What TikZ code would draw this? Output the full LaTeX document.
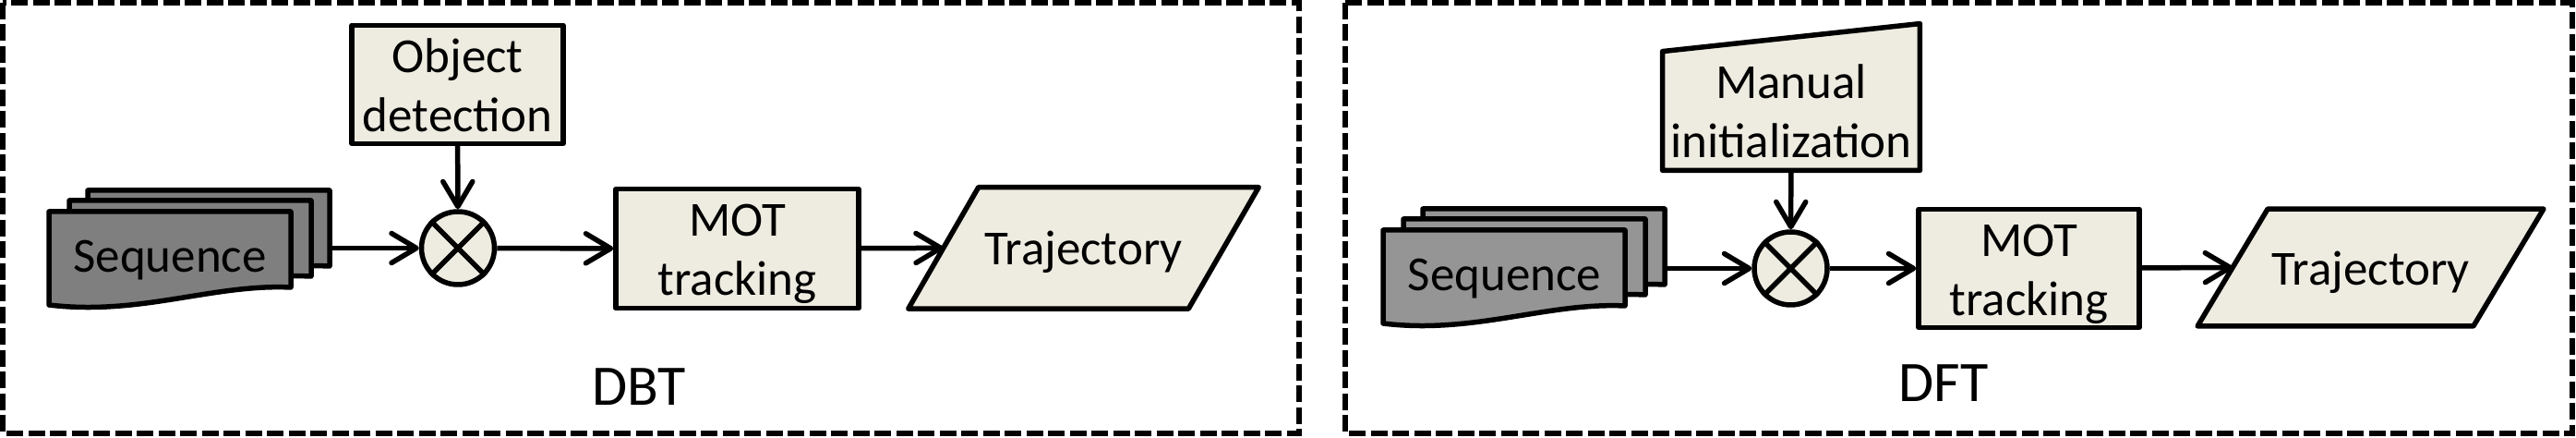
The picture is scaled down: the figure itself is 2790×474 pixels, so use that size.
\documentclass[tikz,border=0pt]{standalone}
\usepackage{fontspec}
\setmainfont{Carlito}
\usetikzlibrary{arrows.meta,calc}
\pgfdeclarelayer{bg}
\pgfsetlayers{bg,main}
\definecolor{beige}{HTML}{EEECE1}
\definecolor{docL}{HTML}{7F7F7F}
\definecolor{docR}{HTML}{959595}
\newcommand{\topstrutx}{\rule{0pt}{25.3pt}}
\newcommand{\botstrutx}{\rule[-6.7pt]{0pt}{0pt}}
\tikzset{
  lw/.style={line width=2.75pt, line join=round},
  txt/.style={inner sep=0pt, align=center, font=\fontsize{26.5pt}{32pt}\selectfont},
  procbox/.style={txt, lw, draw, fill=beige, rectangle},
  circ/.style={circle, lw, draw, fill=beige, minimum size=39.5pt, inner sep=0pt},
  arr/.style={lw, -{Straight Barb[length=13.5pt,width=16pt,round]}},
  shp/.style={lw, draw, fill=#1},
  lab/.style={inner sep=0pt, font=\fontsize{31pt}{37pt}\selectfont},
  border/.style={line width=2.6pt, line join=miter, dash pattern=on 9pt off 2.75pt},
}
\newcommand{\seqdoc}[3]{%
  \begin{scope}[shift={(#1,#2)}]
    \path[shp=#3] (0,0) -- (262,0) -- (262,82) .. controls (178,78) and (98,113) .. (0,101) -- cycle;
  \end{scope}}
\begin{document}
\begin{tikzpicture}[x=0.5pt, y=-0.5pt, line width=2.75pt, line join=round]
\useasboundingbox (0,0) rectangle (2790,474);

% ---------- borders ----------
\draw[border] (3,3) rectangle (1407,469);
\draw[border] (1457,3) rectangle (2786,469);

% ================= DBT panel =================
\seqdoc{95}{206}{docL}
\seqdoc{75}{217}{docL}
\seqdoc{53}{229}{docL}
\node[txt] (seqL) at (184,276.4) {\topstrutx Sequence\botstrutx};
\coordinate (seqLout) at (357,268.5);

\node[procbox, minimum width=114.5pt, minimum height=63.5pt] (objdet) at (495.5,91.5)
  {\topstrutx Object\\detection\botstrutx};
\node[circ] (circL) at (496,268.5) {};
\draw[lw] (circL.north west) -- (circL.south east) (circL.north east) -- (circL.south west);

\node[procbox, minimum width=131.5pt, minimum height=64.5pt] (motL) at (798.5,269.2)
  {\topstrutx MOT\\tracking\botstrutx};

\node[txt, minimum width=149pt, minimum height=63pt] (trajL) at (1173.5,268.4)
  {\topstrutx Trajectory\botstrutx};
\begin{pgfonlayer}{bg}
  \path[shp=beige] ($(trajL.south west)+(-38,0)$) -- ($(trajL.south east)+(-38,0)$)
    -- ($(trajL.north east)+(38,0)$) -- ($(trajL.north west)+(38,0)$) -- cycle;
\end{pgfonlayer}

\draw[arr] (objdet) -- (circL);
\draw[arr] (seqLout) -- (circL);
\draw[arr] (circL) -- (motL);
\draw[arr] (motL) -- (trajL.west);

\node[lab, anchor=base] (dbt) at (692,439) {DBT};

% ================= DFT panel =================
\seqdoc{1541}{226}{docR}
\seqdoc{1520}{237}{docR}
\seqdoc{1498}{249}{docR}
\node[txt] (seqR) at (1629.5,296.4) {\topstrutx Sequence\botstrutx};
\coordinate (seqRout) at (1803,290.5);

\node[txt, minimum width=139pt, minimum height=60pt] (manual) at (1940,120)
  {\topstrutx Manual\\initialization\botstrutx};
\begin{pgfonlayer}{bg}
  \path[shp=beige] (manual.south west) -- (manual.south east)
    -- ($(manual.north east)+(0,-30)$) -- (manual.north west) -- cycle;
\end{pgfonlayer}

\node[circ] (circR) at (1939.5,290.5) {};
\draw[lw] (circR.north west) -- (circR.south east) (circR.north east) -- (circR.south west);

\node[procbox, minimum width=119.5pt, minimum height=63.5pt] (motR) at (2197.5,290.5)
  {\topstrutx MOT\\tracking\botstrutx};

\node[txt, minimum width=149pt, minimum height=63pt] (trajR) at (2567.5,289.5)
  {\topstrutx Trajectory\botstrutx};
\begin{pgfonlayer}{bg}
  \path[shp=beige] ($(trajR.south west)+(-38,0)$) -- ($(trajR.south east)+(-38,0)$)
    -- ($(trajR.north east)+(38,0)$) -- ($(trajR.north west)+(38,0)$) -- cycle;
\end{pgfonlayer}

\draw[arr] (manual) -- (circR);
\draw[arr] (seqRout) -- (circR);
\draw[arr] (circR) -- (motR);
\draw[arr] (motR) -- (trajR.west);

\node[lab, anchor=base] (dft) at (2105,435) {DFT};
\end{tikzpicture}
\end{document}
